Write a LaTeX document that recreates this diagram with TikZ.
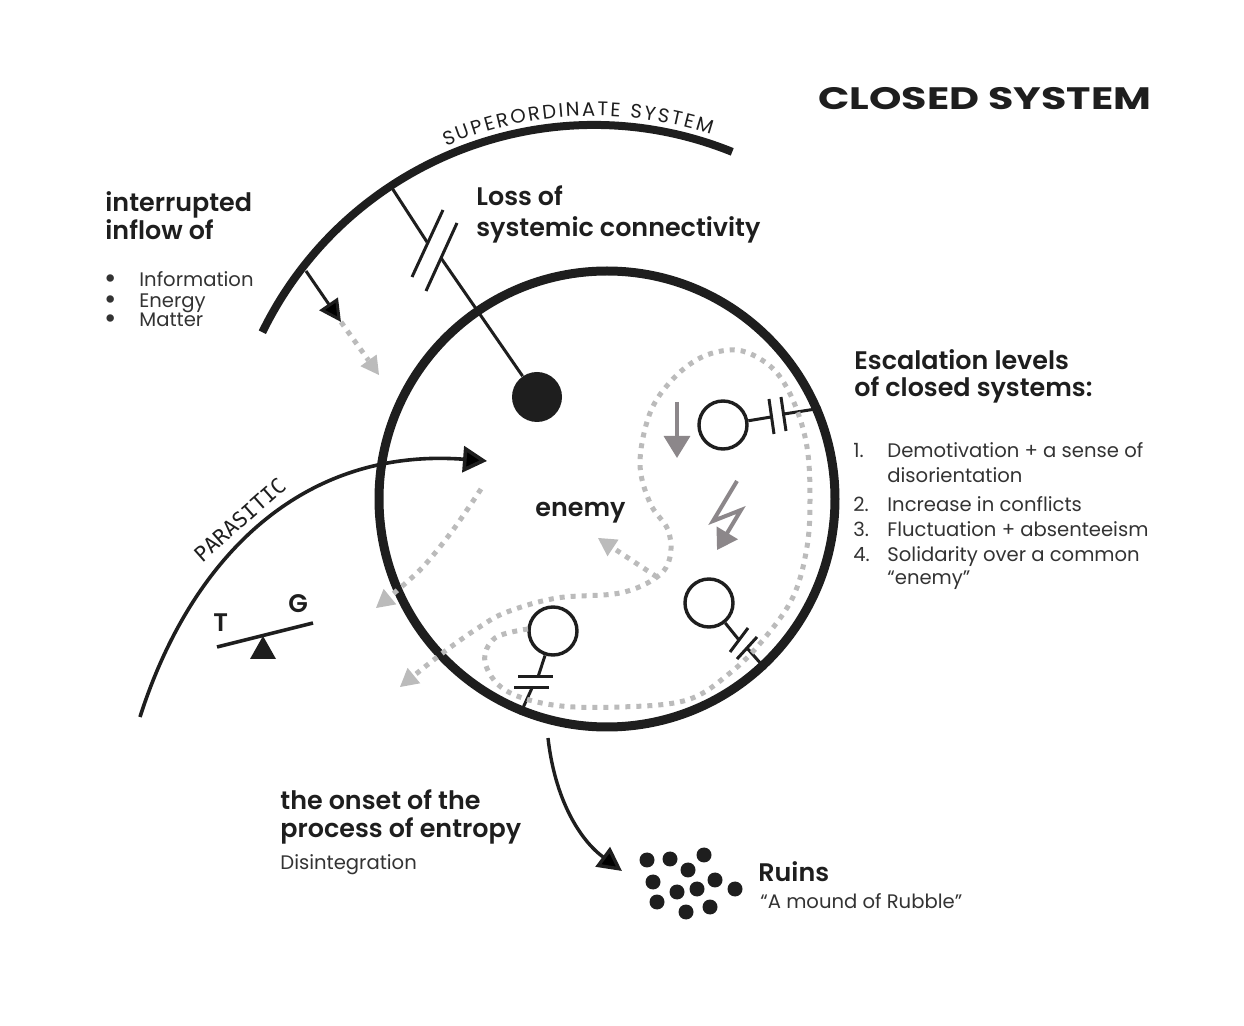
\documentclass[tikz,border=0pt]{standalone}
\usepackage{graphicx}
\usepackage{fontspec}
\setmainfont{Poppins}[BoldFont={Poppins SemiBold}]
\newfontfamily\titlefont{Poppins Bold}
\setmonofont{DejaVu Sans Mono}
\usetikzlibrary{arrows.meta,decorations.text}
\definecolor{ink}{HTML}{1E1E1E}
\definecolor{dotgray}{HTML}{BBBBBB}
\definecolor{arrgray}{HTML}{8C878A}
\definecolor{txtgray}{HTML}{333333}
\tikzset{
  wall/.style={line width=4.5pt, draw=ink},
  link/.style={line width=1.5pt, draw=ink},
  plate/.style={line width=1.5pt, draw=ink},
  head/.style={circle, draw=ink, line width=1.7pt, minimum size=24pt, inner sep=0pt},
  rubble/.style={circle, fill=ink, minimum size=7.5pt, inner sep=0pt},
  dotline/.style={draw=dotgray, line width=2.5pt, dash pattern=on 2.5pt off 3pt},
  dotarrow/.style={dotline, -{Triangle[length=9pt,width=10pt,line width=0pt,fill=dotgray]}},
  bigtip/.style={-{Triangle[length=11pt,width=11pt]}},
  greytip/.style={draw=arrgray, line width=1.7pt, -{Triangle[length=11pt,width=13pt]}},
  hdr/.style={font=\fontsize{12.7}{15}\selectfont\bfseries, text=ink, anchor=base west, inner sep=0pt},
  txt/.style={font=\fontsize{9.8}{12}\selectfont, text=txtgray, anchor=base west, inner sep=0pt}
}
\begin{document}
\begin{tikzpicture}[x=0.5pt, y=-0.5pt]
\useasboundingbox (0,0) rectangle (1244,1026);

\node[circle, wall, minimum size=228pt, inner sep=0pt] (sys) at (607,499) {};

\draw[wall, line width=4pt] (594,494) ++(-154:369) coordinate (supL)
  arc[start angle=-154, end angle=-68, radius=369] coordinate (supR);
\path[decorate, decoration={text along path, text align=fit to path, text color=ink,
  text={|\fontsize{9.8}{10}\selectfont|SUPERORDINATE SYSTEM}}]
  (594,494) ++(-113:378) arc[start angle=-113, end angle=-72, radius=378];

\coordinate (parS) at (140,717);
\coordinate (parE) at (487,461);
\draw[link, line width=1.8pt, -{Triangle[length=12pt,width=13pt]}] (parS)
  .. controls (190,560) and (300,447) .. (parE)
  node[pos=0.47, sloped, above=1pt, font=\ttfamily\fontsize{10.5}{10}\selectfont, text=ink] (parLbl) {PARASITIC};

\coordinate (lossA) at (392,188);
\coordinate (lossB) at (427,242);
\coordinate (lossC) at (441,258);
\node[circle, fill=ink, minimum size=25pt, inner sep=0pt] (core) at (537,397) {};
\draw[link] (lossA) -- (lossB);
\draw[plate] (412,277) -- (443,210);
\draw[plate] (426,291) -- (457,223);
\draw[link] (lossC) -- (core);

\coordinate (inA) at (306,271);
\coordinate (inB) at (341,322);
\coordinate (inC) at (379,375);
\draw[link, bigtip] (inA) -- (inB);
\draw[dotarrow] (inB) -- (inC);

\node[head] (p1) at (723,425) {};
\coordinate (p1a) at (771,417);
\coordinate (p1b) at (784,414);
\draw[link] (p1) -- (p1a);
\draw[plate] (769,399) -- (774,434);
\draw[plate] (781,397) -- (786,431);
\draw[link] (p1b) -- (sys.23);

\node[head] (p2) at (709,603) {};
\coordinate (p2a) at (739,640);
\coordinate (p2b) at (747,648);
\draw[link] (p2) -- (p2a);
\draw[plate] (730,652) -- (748,628);
\draw[plate] (737,659) -- (757,637);
\draw[link] (p2b) -- (sys.-47);

\node[head] (p3) at (553,631) {};
\coordinate (p3a) at (538,677);
\coordinate (p3b) at (532,688);
\draw[link] (p3) -- (p3a);
\draw[plate] (518,677) -- (553,677);
\draw[plate] (514,688) -- (549,688);
\draw[link] (p3b) -- (sys.-112);

\draw[dotarrow] plot[smooth, tension=0.6] coordinates {(528,629) (495,638) (485,662) (505,690)
  (553,705) (620,707) (687,700) (730,673) (763,640) (793,597) (807,547) (810,497) (807,447)
  (795,405) (777,373) (753,355) (730,350) (700,358) (672,380) (650,413) (640,463) (650,503)
  (668,530) (670,557) (657,577) (620,593) (557,598) (507,612) (478,628) (440,655) (400,687)};
\draw[dotarrow] (657,577) -- (598,538);
\draw[dotarrow] plot[smooth] coordinates {(481,489) (453,530) (420,570) (376,608)};

\coordinate (dnA) at (677,402);
\coordinate (dnB) at (677,458);
\draw[greytip] (dnA) -- (dnB);
\draw[greytip, line width=2pt, line join=miter, -{Triangle[length=10pt,width=12pt]}] (737,481) -- (713,521) -- (741,510) -- (717,550);

\coordinate (entA) at (548,738);
\coordinate (entB) at (622,871);
\draw[link, line width=1.7pt, -{Triangle[length=12pt,width=12pt]}] (entA) .. controls (555,800) and (580,840) .. (entB);

\node[rubble] (r1) at (647,860) {};  \node[rubble] (r2) at (670,859) {};
\node[rubble] (r3) at (704,855) {};  \node[rubble] (r4) at (688,870) {};
\node[rubble] (r5) at (653,882) {};  \node[rubble] (r6) at (715,880) {};
\node[rubble] (r7) at (735,889) {};  \node[rubble] (r8) at (697,889) {};
\node[rubble] (r9) at (677,892) {};  \node[rubble] (r10) at (657,902) {};
\node[rubble] (r11) at (686,912) {}; \node[rubble] (r12) at (710,907) {};

\coordinate (beamL) at (217,647);
\coordinate (beamR) at (313,623);
\draw[link, line width=1.8pt] (beamL) -- (beamR);
\fill[ink] (263,636) -- (250,659) -- (276,659) -- cycle;
\node[hdr] (tLbl) at (213,632) {T};
\node[hdr] (gLbl) at (288,613) {G};

\node[anchor=base west, inner sep=0pt, text=ink, font=\titlefont\fontsize{15.5}{18}\selectfont] (title) at (818,110) {\scalebox{1.33}[1]{CLOSED SYSTEM}};

\node[hdr] (inflow1) at (105,212) {interrupted};
\node[hdr] (inflow2) at (105,240) {inflow of};
\node[txt, font=\fontsize{15}{12}\selectfont] (b1) at (104,289) {•};
\node[txt, font=\fontsize{15}{12}\selectfont] (b2) at (104,310) {•};
\node[txt, font=\fontsize{15}{12}\selectfont] (b3) at (104,329) {•};
\node[txt] (info) at (139,287) {Information};
\node[txt] (energy) at (139,308) {Energy};
\node[txt] (matter) at (139,327) {Matter};

\node[hdr] (loss1) at (476,206) {Loss of};
\node[hdr] (loss2) at (476,237) {systemic connectivity};

\node[hdr] (esc1) at (854,370) {Escalation levels};
\node[hdr] (esc2) at (854,397) {of closed systems:};
\node[txt] (n1) at (853,458) {1.};
\node[txt] (n2) at (853,512) {2.};
\node[txt] (n3) at (853,537) {3.};
\node[txt] (n4) at (853,562) {4.};
\node[txt] (lv1) at (887,458) {Demotivation + a sense of};
\node[txt] (lv1b) at (887,483) {disorientation};
\node[txt] (lv2) at (887,512) {Increase in conflicts};
\node[txt] (lv3) at (887,537) {Fluctuation + absenteeism};
\node[txt] (lv4) at (887,562) {Solidarity over a common};
\node[txt] (lv4b) at (887,585) {“enemy”};

\node[hdr] (enemy) at (535,517) {enemy};

\node[hdr] (onset1) at (280,810) {the onset of the};
\node[hdr] (onset2) at (280,838) {process of entropy};
\node[txt] (disint) at (280,870) {Disintegration};

\node[hdr] (ruins) at (758,882) {Ruins};
\node[txt] (rubbleTxt) at (760,908) {“A mound of Rubble”};
\end{tikzpicture}
\end{document}
